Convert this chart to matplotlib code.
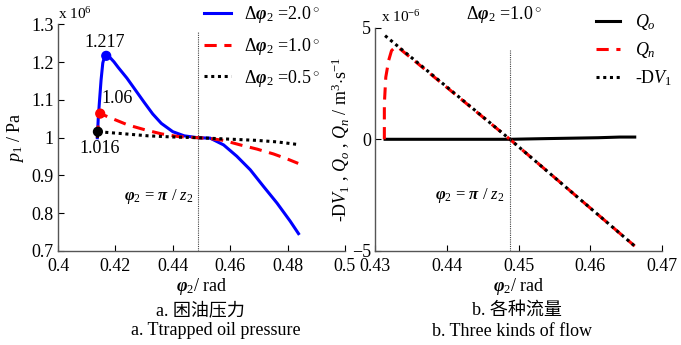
import numpy as np
import matplotlib
matplotlib.use('Agg')
import matplotlib.pyplot as plt
from matplotlib.ticker import FormatStrFormatter

plt.rcParams['font.family'] = ['Liberation Serif', 'Noto Sans CJK SC']
plt.rcParams['mathtext.fontset'] = 'custom'
plt.rcParams['mathtext.rm'] = 'Liberation Serif'
plt.rcParams['mathtext.it'] = 'Liberation Serif:italic'
plt.rcParams['mathtext.bf'] = 'Liberation Serif:bold'
plt.rcParams['mathtext.bfit'] = 'Liberation Serif:italic:bold'
plt.rcParams['font.size'] = 13

phi0 = np.pi / 7  # phi2 = pi / z2, z2 = 7

# --- a. trapped oil pressure (x 10^6 Pa) ---
x_20 = [0.4137, 0.4140, 0.4144, 0.4150, 0.4156, 0.4161, 0.4168, 0.4175, 0.4183,
        0.4195, 0.4210, 0.4240, 0.4270, 0.4300, 0.4330, 0.4360, 0.4400, 0.4440,
        0.4488, 0.4530, 0.4577, 0.4623, 0.4670, 0.4716, 0.4763, 0.4809, 0.4838]
p_20 = [1.000, 1.048, 1.092, 1.153, 1.198, 1.212, 1.217, 1.216, 1.211,
        1.201, 1.186, 1.158, 1.126, 1.094, 1.063, 1.038, 1.016, 1.005,
        1.000, 0.999, 0.981, 0.951, 0.915, 0.871, 0.827, 0.779, 0.746]
x_10 = [0.4137, 0.4141, 0.4147, 0.4185, 0.4243, 0.4303, 0.4362, 0.4420, 0.4488,
        0.4530, 0.4577, 0.4635, 0.4693, 0.4751, 0.4798, 0.4837]
p_10 = [1.000, 1.045, 1.064, 1.052, 1.034, 1.021, 1.010, 1.003, 1.000,
        0.998, 0.993, 0.981, 0.970, 0.957, 0.944, 0.932]
x_05 = [0.4137, 0.4139, 0.4222, 0.4315, 0.4400, 0.4488, 0.4577, 0.4693, 0.4763, 0.4837]
p_05 = [1.000, 1.016, 1.011, 1.005, 1.002, 1.000, 0.997, 0.993, 0.989, 0.982]
peak_x = [0.4168, 0.4147, 0.4139]
peak_p = [1.217, 1.064, 1.016]
peak_txt = ['1.217', '1.06', '1.016']

# --- b. three kinds of flow (x 10^-6 m^3/s) ---
dv_x = [0.4314, 0.4488, 0.4662]
dv_y = [4.64, 0.0, -4.78]
qn_x = [0.4313, 0.4313, 0.4315, 0.4319, 0.4323, 0.4328, 0.4332, 0.4488, 0.4662]
qn_y = [0.0, 1.59, 2.78, 3.53, 3.97, 4.12, 4.12, 0.0, -4.78]
qo_x = [0.4314, 0.4488, 0.4537, 0.4611, 0.4641, 0.4662]
qo_y = [0.0, 0.0, 0.03, 0.07, 0.10, 0.10]

PHI = r'$\mathbfit{\varphi}_2$'

fig = plt.figure(figsize=(6.81, 3.45), dpi=100)
ax1 = fig.add_axes([0.0852, 0.2725, 0.4214, 0.6565])
ax2 = fig.add_axes([0.5507, 0.2725, 0.4214, 0.6475])

for ax in (ax1, ax2):
    ax.spines['top'].set_visible(False)
    ax.spines['right'].set_visible(False)
    ax.tick_params(direction='in', length=4, labelsize=13)
    ax.tick_params(axis='x', pad=5)
    ax.tick_params(axis='y', pad=3)
    for s in ('left', 'bottom'):
        ax.spines[s].set_color('#555555')
        ax.spines[s].set_linewidth(1.0)

# left panel
ax1.plot(x_20, p_20, color='#0000ff', lw=2.2, label=r'$\Delta\mathbfit{\varphi}_2$ =2.0$\,^{\circ}$')
ax1.plot(x_10, p_10, color='#ff0000', lw=2.2, ls=(0, (4, 2.5)), label=r'$\Delta\mathbfit{\varphi}_2$ =1.0$\,^{\circ}$')
ax1.plot(x_05, p_05, color='black', lw=2.2, ls=(0, (1, 1.2)), label=r'$\Delta\mathbfit{\varphi}_2$ =0.5$\,^{\circ}$')
ax1.scatter(peak_x, peak_p, color=['#0000ff', '#ff0000', 'black'], s=40, zorder=5)
ax1.axvline(phi0, ymax=0.97, color='#444444', lw=0.8, ls=(0, (1, 1)))
ax1.set_xlim(0.4, 0.5)
ax1.set_ylim(0.7, 1.3)
ax1.set_xticks([0.4, 0.42, 0.44, 0.46, 0.48, 0.5])
ax1.set_yticks([0.7, 0.8, 0.9, 1.0, 1.1, 1.2, 1.3])
ax1.xaxis.set_major_formatter(FormatStrFormatter('%g'))
ax1.yaxis.set_major_formatter(FormatStrFormatter('%g'))
ax1.set_xlabel(PHI + '/ rad', fontsize=13, labelpad=1)
ax1.set_ylabel(r'$p_1$ / Pa', fontsize=13, labelpad=4)
ax1.text(0.0, 1.01, r'x 10$^6$', transform=ax1.transAxes, fontsize=11, ha='left', va='bottom')
ax1.text(peak_x[0] - 0.0075, peak_p[0] + 0.012, peak_txt[0], fontsize=13, ha='left', va='bottom')
ax1.text(peak_x[1] + 0.0003, peak_p[1] + 0.018, peak_txt[1], fontsize=13, ha='left', va='bottom')
ax1.text(peak_x[2] + 0.0005, peak_p[2] - 0.022, peak_txt[2], fontsize=13, ha='center', va='top')
ax1.text(phi0 - 0.0015, 0.845, PHI + r' = $\mathbfit{\pi}$ / $z_2$', fontsize=12, ha='right', va='center')
ax1.legend(loc='upper left', bbox_to_anchor=(0.51, 1.09), frameon=False, fontsize=13,
           borderaxespad=0, borderpad=0, handlelength=1.5, handletextpad=0.7, labelspacing=0.6)

# right panel
ax2.plot(qo_x, qo_y, color='black', lw=2.2, label=r'$Q_o$')
ax2.plot(qn_x, qn_y, color='#ff0000', lw=2.2, ls=(0, (4, 2.5)), label=r'$Q_n$')
ax2.plot(dv_x, dv_y, color='black', lw=2.2, ls=(0, (1, 1.2)), label=r'-D$V_1$')
ax2.axvline(phi0, ymax=0.9, color='#444444', lw=0.8, ls=(0, (1, 1)))
ax2.set_xlim(0.43, 0.47)
ax2.set_ylim(-5, 5)
ax2.set_xticks([0.43, 0.44, 0.45, 0.46, 0.47])
ax2.set_yticks([-5, 0, 5])
ax2.xaxis.set_major_formatter(FormatStrFormatter('%g'))
ax2.set_xlabel(PHI + '/ rad', fontsize=13, labelpad=1)
ax2.set_ylabel(r'-D$V_1$ , $Q_o$ , $Q_n$ / m$^3$$\cdot$s$^{-1}$', fontsize=13, labelpad=0)
ax2.text(0.02, 1.01, r'x 10$^{-6}$', transform=ax2.transAxes, fontsize=11, ha='left', va='bottom')
ax2.text(0.448, 5.1, r'$\Delta\mathbfit{\varphi}_2$ =1.0$\,^{\circ}$', fontsize=13, ha='center', va='bottom')
ax2.text(phi0 - 0.0007, -2.5, PHI + r' = $\mathbfit{\pi}$ / $z_2$', fontsize=12, ha='right', va='center')
ax2.legend(loc='upper left', bbox_to_anchor=(0.77, 1.07), frameon=False, fontsize=13,
           borderaxespad=0, borderpad=0, handlelength=1.35, handletextpad=0.8, labelspacing=0.45)

# captions
fig.text(0.294, 0.100, 'a. 困油压力', ha='center', va='center', fontsize=13)
fig.text(0.317, 0.043, 'a. Ttrapped oil pressure', ha='center', va='center', fontsize=13)
fig.text(0.759, 0.100, 'b. 各种流量', ha='center', va='center', fontsize=13)
fig.text(0.752, 0.038, 'b. Three kinds of flow', ha='center', va='center', fontsize=13)

fig.savefig('out.png', dpi=100)
